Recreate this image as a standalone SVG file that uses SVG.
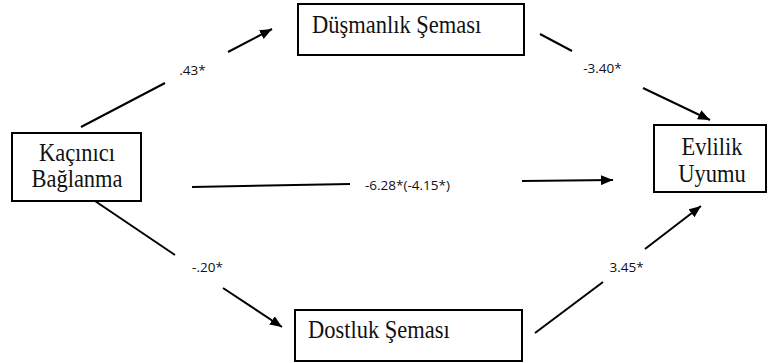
<svg xmlns="http://www.w3.org/2000/svg" width="776" height="363" viewBox="0 0 776 363">
<defs>
<marker id="ah" markerUnits="userSpaceOnUse" markerWidth="12" markerHeight="10" refX="12" refY="5" orient="auto">
<path d="M0,0 L12,5 L0,10 z" fill="#000"/>
</marker>
<style>
.box{fill:#fff;stroke:#000;stroke-width:2}
.nt{font-size:22.5px;fill:#111}
.ln{stroke:#000;stroke-width:2;fill:none}
.lb{font-family:"Open Sans","Liberation Sans",sans-serif;font-size:13.5px;fill:#111}
</style>
</defs>
<rect width="776" height="363" fill="#fff"/>
<g id="connectors">
<line class="ln" x1="81" y1="127" x2="165" y2="83"/>
<line class="ln" x1="228" y1="52" x2="272" y2="29" marker-end="url(#ah)"/>
<text class="lb" x="192.5" y="75" text-anchor="middle">.43*</text>
<line class="ln" x1="540" y1="34" x2="572" y2="51"/>
<line class="ln" x1="643" y1="88" x2="710" y2="120" marker-end="url(#ah)"/>
<text class="lb" x="602.5" y="73" text-anchor="middle">-3.40*</text>
<line class="ln" x1="192" y1="187" x2="350" y2="184"/>
<line class="ln" x1="522" y1="181" x2="613" y2="180" marker-end="url(#ah)"/>
<text class="lb" x="365" y="190">-6.28*(-4.15*)</text>
<line class="ln" x1="95" y1="201" x2="175" y2="255"/>
<line class="ln" x1="223" y1="288" x2="282" y2="327" marker-end="url(#ah)"/>
<text class="lb" x="207.5" y="272" text-anchor="middle">-.20*</text>
<line class="ln" x1="535" y1="333" x2="603" y2="282"/>
<line class="ln" x1="645" y1="249" x2="701" y2="206" marker-end="url(#ah)"/>
<text class="lb" x="626.5" y="272" text-anchor="middle">3.45*</text>
</g>
<g id="kacinici" font-family="Liberation Serif, serif">
<rect class="box" x="12" y="133" width="129" height="68"/>
<text class="nt" text-anchor="middle" transform="translate(77,161) scale(1,1.08)">Kaçınıcı</text>
<text class="nt" text-anchor="middle" transform="translate(77,187) scale(1,1.08)">Bağlanma</text>
</g>
<g id="dusmanlik" font-family="Liberation Serif, serif">
<rect class="box" x="298" y="4" width="226" height="51"/>
<text class="nt" transform="translate(312,33) scale(1,1.08)">Düşmanlık Şeması</text>
</g>
<g id="evlilik" font-family="Liberation Serif, serif">
<rect class="box" x="654" y="125" width="112" height="67"/>
<text class="nt" text-anchor="middle" transform="translate(712,155) scale(1,1.08)">Evlilik</text>
<text class="nt" text-anchor="middle" transform="translate(712,182) scale(1,1.08)">Uyumu</text>
</g>
<g id="dostluk" font-family="Liberation Serif, serif">
<rect class="box" x="295" y="310" width="227" height="51"/>
<text class="nt" transform="translate(308,338) scale(1,1.08)">Dostluk Şeması</text>
</g>
</svg>
